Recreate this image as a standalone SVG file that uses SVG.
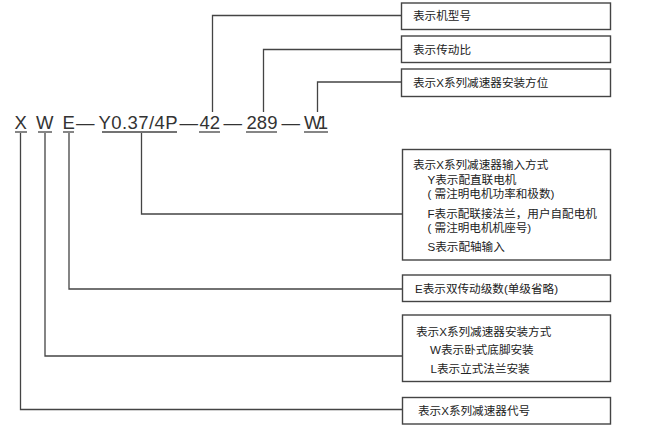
<svg xmlns="http://www.w3.org/2000/svg" width="664" height="444" viewBox="0 0 664 444">
<style>
.code{font-family:"Liberation Sans",Arial,sans-serif;font-size:18.5px;fill:#333}
.ul{stroke:#444;stroke-width:1.3}
.conn{fill:none;stroke:#444;stroke-width:1.3}
.box{fill:#fff;stroke:#444;stroke-width:1.4}
.lbl{font-family:"Liberation Sans","Noto Sans CJK SC",sans-serif;font-size:11.6px;fill:#222}
</style>
<rect width="664" height="444" fill="#fff"/>
<g id="code">
<text class="code" x="14.5" y="128.5">X</text>
<text class="code" x="36" y="128.5">W</text>
<text class="code" x="62.5" y="128.5">E</text>
<text class="code" x="76" y="128.5">—</text>
<text class="code" x="98.5" y="128.5" textLength="79">Y0.37/4P</text>
<text class="code" x="179.5" y="128.5">—</text>
<text class="code" x="199.5" y="128.5">42</text>
<text class="code" x="223.5" y="128.5">—</text>
<text class="code" x="246.5" y="128.5" textLength="31">289</text>
<text class="code" x="281.5" y="128.5">—</text>
<text class="code" x="304" y="128.5" textLength="24">W1</text>
<line class="ul" x1="15" y1="132" x2="27" y2="132"/>
<line class="ul" x1="38" y1="132" x2="52" y2="132"/>
<line class="ul" x1="63" y1="132" x2="74" y2="132"/>
<line class="ul" x1="102" y1="132" x2="177" y2="132"/>
<line class="ul" x1="199" y1="132" x2="220" y2="132"/>
<line class="ul" x1="246" y1="132" x2="277" y2="132"/>
<line class="ul" x1="304" y1="132" x2="328" y2="132"/>
</g>
<g id="connectors">
<path class="conn" d="M212.5 112V15.5H401.5"/>
<path class="conn" d="M263.5 112V49.5H401.5"/>
<path class="conn" d="M317.5 112V82H401.5"/>
<path class="conn" d="M141.5 133V214H402.5"/>
<path class="conn" d="M69 133V289H402.5"/>
<path class="conn" d="M45 133V356H402.5"/>
<path class="conn" d="M20.5 133V409.5H402.5"/>
</g>
<g id="n-model">
<rect class="box" x="401.5" y="3" width="209" height="26.5"/>
<text class="lbl" x="413" y="20">表示机型号</text>
</g>
<g id="n-ratio">
<rect class="box" x="401.5" y="36" width="209" height="26.5"/>
<text class="lbl" x="413" y="54">表示传动比</text>
</g>
<g id="n-position">
<rect class="box" x="401.5" y="69" width="209" height="27.5"/>
<text class="lbl" x="413" y="86.5">表示X系列减速器安装方位</text>
</g>
<g id="n-input">
<rect class="box" x="402.5" y="149.5" width="208" height="110.5"/>
<text class="lbl" x="413" y="169">表示X系列减速器输入方式</text>
<text class="lbl" x="427.5" y="183.5">Y表示配直联电机</text>
<text class="lbl" x="427.5" y="197.5">( 需注明电机功率和极数)</text>
<text class="lbl" x="427.5" y="217.5">F表示配联接法兰，用户自配电机</text>
<text class="lbl" x="427.5" y="231.5">( 需注明电机机座号)</text>
<text class="lbl" x="427.5" y="251">S表示配轴输入</text>
</g>
<g id="n-stage">
<rect class="box" x="402.5" y="275" width="208" height="26.5"/>
<text class="lbl" x="415" y="292.5">E表示双传动级数(单级省略)</text>
</g>
<g id="n-mount">
<rect class="box" x="402.5" y="315" width="208" height="66.5"/>
<text class="lbl" x="416" y="336">表示X系列减速器安装方式</text>
<text class="lbl" x="430" y="353.5">W表示卧式底脚安装</text>
<text class="lbl" x="430.5" y="372.5">L表示立式法兰安装</text>
</g>
<g id="n-code">
<rect class="box" x="402.5" y="397.5" width="208" height="26.5"/>
<text class="lbl" x="418" y="415">表示X系列减速器代号</text>
</g>
</svg>
